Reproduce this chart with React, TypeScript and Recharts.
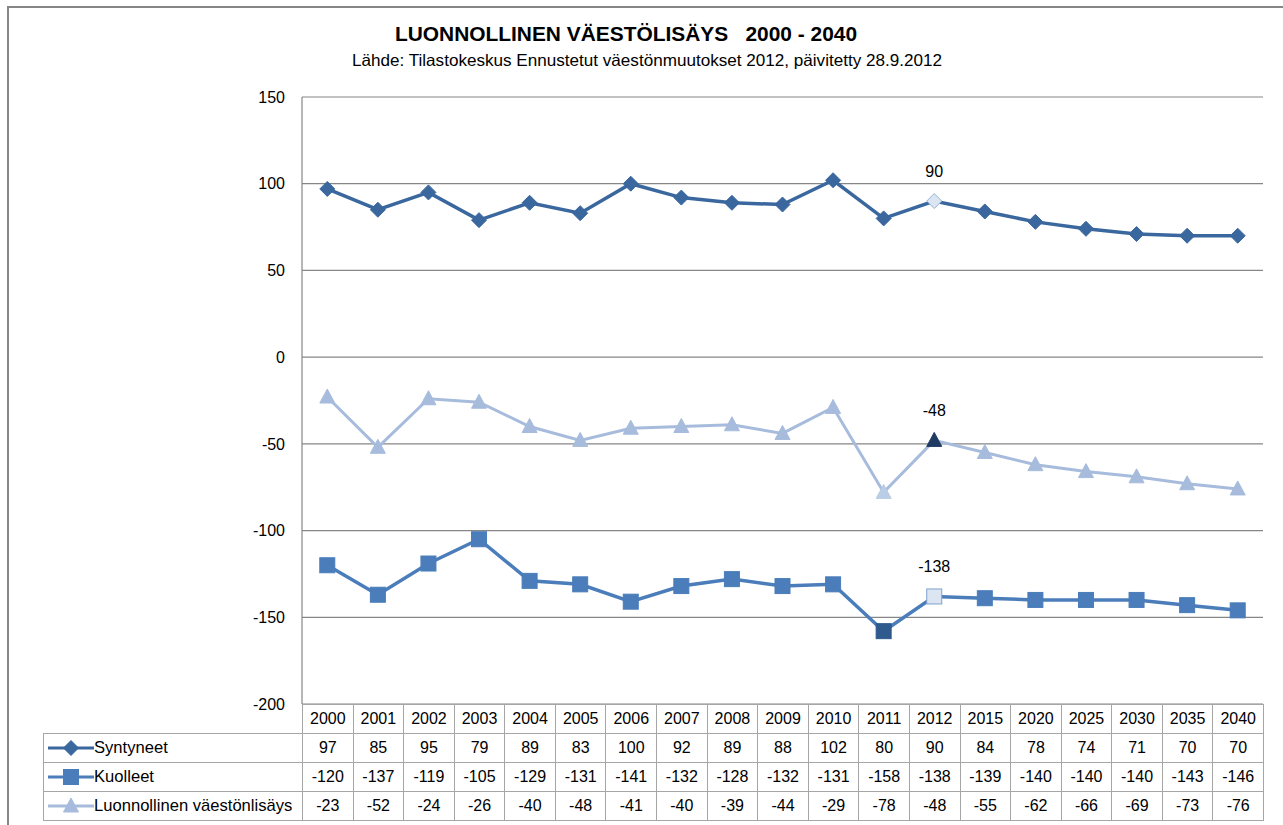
import React from 'react'
import { LineChart, Line, XAxis, YAxis, CartesianGrid, LabelList } from 'recharts'

const YEARS = ['2000', '2001', '2002', '2003', '2004', '2005', '2006', '2007', '2008', '2009', '2010', '2011', '2012', '2015', '2020', '2025', '2030', '2035', '2040']
const SYNTYNEET = [97, 85, 95, 79, 89, 83, 100, 92, 89, 88, 102, 80, 90, 84, 78, 74, 71, 70, 70]
const KUOLLEET = [-120, -137, -119, -105, -129, -131, -141, -132, -128, -132, -131, -158, -138, -139, -140, -140, -140, -143, -146]
const LISAYS = [-23, -52, -24, -26, -40, -48, -41, -40, -39, -44, -29, -78, -48, -55, -62, -66, -69, -73, -76]
const Y_TICKS = [-200, -150, -100, -50, 0, 50, 100, 150]
const LABEL_INDEX = 12

const data = YEARS.map((year, i) => ({
  year,
  syntyneet: SYNTYNEET[i],
  kuolleet: KUOLLEET[i],
  lisays: LISAYS[i],
}))

const C_SYN = '#3A679E'
const C_KUO = '#4A7DBA'
const C_LIS = '#A7BCDC'
const GRID = '#868686'
const TABLE_LINE = '#A6A6A6'
const FONT = '"Liberation Sans", Arial, sans-serif'
const NARROW = '"Liberation Sans Narrow", "Liberation Sans", Arial, sans-serif'

type Shape = 'diamond' | 'square' | 'triangle'
type Special = Record<number, { fill: string; stroke: string }>

function marker(shape: Shape, cx: number, cy: number, fill: string, stroke: string, key?: string | number) {
  if (shape === 'diamond') {
    const r = 7.5
    return <path key={key} d={`M${cx},${cy - r}L${cx + r},${cy}L${cx},${cy + r}L${cx - r},${cy}Z`} fill={fill} stroke={stroke} strokeWidth={1} />
  }
  if (shape === 'square') {
    const h = 7.5
    return <rect key={key} x={cx - h} y={cy - h} width={h * 2} height={h * 2} fill={fill} stroke={stroke} strokeWidth={1} />
  }
  const w = 7.5
  return <path key={key} d={`M${cx},${cy - 8}L${cx + w},${cy + 6}L${cx - w},${cy + 6}Z`} fill={fill} stroke={stroke} strokeWidth={1} />
}

function makeDot(shape: Shape, color: string, special: Special) {
  return (props: any) => {
    const { cx, cy, index } = props
    const s = special[index]
    return marker(shape, cx, cy, s ? s.fill : color, s ? s.stroke : color, `${shape}-${index}`)
  }
}

function pointLabel(props: any) {
  const { x, y, index, value } = props
  if (index !== LABEL_INDEX) return null
  return (
    <text x={x} y={y - 24} textAnchor="middle" fontFamily={FONT} fontSize={16} fill="#000">
      {value}
    </text>
  )
}

function LegendSample({ shape, color }: { shape: Shape; color: string }) {
  return (
    <svg width={46} height={16} style={{ display: 'block' }}>
      <line x1={0} y1={8} x2={46} y2={8} stroke={color} strokeWidth={3} />
      {marker(shape, 23, 8, color, color)}
    </svg>
  )
}

const ROWS: { name: string; values: number[]; shape: Shape; color: string }[] = [
  { name: 'Syntyneet', values: SYNTYNEET, shape: 'diamond', color: C_SYN },
  { name: 'Kuolleet', values: KUOLLEET, shape: 'square', color: C_KUO },
  { name: 'Luonnollinen väestönlisäys', values: LISAYS, shape: 'triangle', color: C_LIS },
]

const PLOT_LEFT = 302
const PLOT_RIGHT = 1263
const COL_W = (PLOT_RIGHT - PLOT_LEFT) / YEARS.length

export default function App() {
  const cell: React.CSSProperties = {
    border: `1px solid ${TABLE_LINE}`,
    height: 29,
    padding: 0,
    textAlign: 'center',
    fontSize: 16,
    fontFamily: FONT,
    color: '#000',
    boxSizing: 'border-box',
  }
  return (
    <div style={{ position: 'absolute', left: 0, top: 0, width: 1283, height: 825, background: '#fff', overflow: 'hidden' }}>
      {/* kehys */}
      <div style={{ position: 'absolute', left: 7, top: 6, width: 1290, height: 830, borderTop: `2px solid ${GRID}`, borderLeft: `2px solid ${GRID}` }} />

      <svg width={1283} height={80} style={{ position: 'absolute', left: 0, top: 0 }}>
        <text x={395} y={41} fontFamily={NARROW} fontWeight="bold" fontSize={21} fill="#000" textLength={462} lengthAdjust="spacingAndGlyphs">
          {'LUONNOLLINEN VÄESTÖLISÄYS\u00a0\u00a0\u00a02000 - 2040'}
        </text>
        <text x={352} y={66} fontFamily={NARROW} fontSize={16.5} fill="#000" textLength={590} lengthAdjust="spacingAndGlyphs">
          Lähde: Tilastokeskus Ennustetut väestönmuutokset 2012, päivitetty 28.9.2012
        </text>
      </svg>

      <div style={{ position: 'absolute', left: 0, top: 0 }}>
        <LineChart width={1283} height={825} data={data} margin={{ top: 97, right: 1283 - PLOT_RIGHT, bottom: 825 - 704, left: PLOT_LEFT - 60 }}>
          <CartesianGrid vertical={false} stroke={GRID} strokeWidth={1.2} />
          <XAxis dataKey="year" hide padding={{ left: COL_W / 2, right: COL_W / 2 }} />
          <YAxis
            width={60}
            domain={[-200, 150]}
            ticks={Y_TICKS}
            interval={0}
            tickLine={false}
            tickSize={6}
            tickMargin={11}
            axisLine={{ stroke: GRID, strokeWidth: 1.2 }}
            tick={{ fontFamily: FONT, fontSize: 16, fill: '#000' }}
          />
          <Line
            dataKey="lisays"
            stroke={C_LIS}
            strokeWidth={3}
            isAnimationActive={false}
            dot={makeDot('triangle', C_LIS, {
              11: { fill: '#B9CDE6', stroke: '#B9CDE6' },
              12: { fill: '#1F3A63', stroke: '#1F3A63' },
            })}
          >
            <LabelList dataKey="lisays" content={pointLabel} />
          </Line>
          <Line
            dataKey="kuolleet"
            stroke={C_KUO}
            strokeWidth={3.5}
            isAnimationActive={false}
            dot={makeDot('square', C_KUO, {
              11: { fill: '#2E5A8E', stroke: '#2E5A8E' },
              12: { fill: '#DCE6F2', stroke: '#7FA0CC' },
            })}
          >
            <LabelList dataKey="kuolleet" content={pointLabel} />
          </Line>
          <Line
            dataKey="syntyneet"
            stroke={C_SYN}
            strokeWidth={3.5}
            isAnimationActive={false}
            dot={makeDot('diamond', C_SYN, {
              12: { fill: '#DCE6F2', stroke: '#95B3D7' },
            })}
          >
            <LabelList dataKey="syntyneet" content={pointLabel} />
          </Line>
        </LineChart>
      </div>

      {/* datataulukko */}
      <table
        style={{
          position: 'absolute',
          left: 43,
          top: 704,
          borderCollapse: 'collapse',
          tableLayout: 'fixed',
          width: PLOT_RIGHT - 43,
        }}
      >
        <colgroup>
          <col style={{ width: PLOT_LEFT - 43 }} />
          {YEARS.map(y => (
            <col key={y} style={{ width: COL_W }} />
          ))}
        </colgroup>
        <tbody>
          <tr>
            <td style={{ ...cell, border: 'none' }} />
            {YEARS.map(y => (
              <td key={y} style={cell}>{y}</td>
            ))}
          </tr>
          {ROWS.map(r => (
            <tr key={r.name}>
              <td style={{ ...cell, textAlign: 'left', paddingLeft: 4, whiteSpace: 'nowrap' }}>
                <div style={{ display: 'flex', alignItems: 'center' }}>
                  <LegendSample shape={r.shape} color={r.color} />
                  <span style={{ marginLeft: 0, fontSize: 16.6 }}>{r.name}</span>
                </div>
              </td>
              {r.values.map((v, i) => (
                <td key={i} style={cell}>{v}</td>
              ))}
            </tr>
          ))}
        </tbody>
      </table>
    </div>
  )
}
